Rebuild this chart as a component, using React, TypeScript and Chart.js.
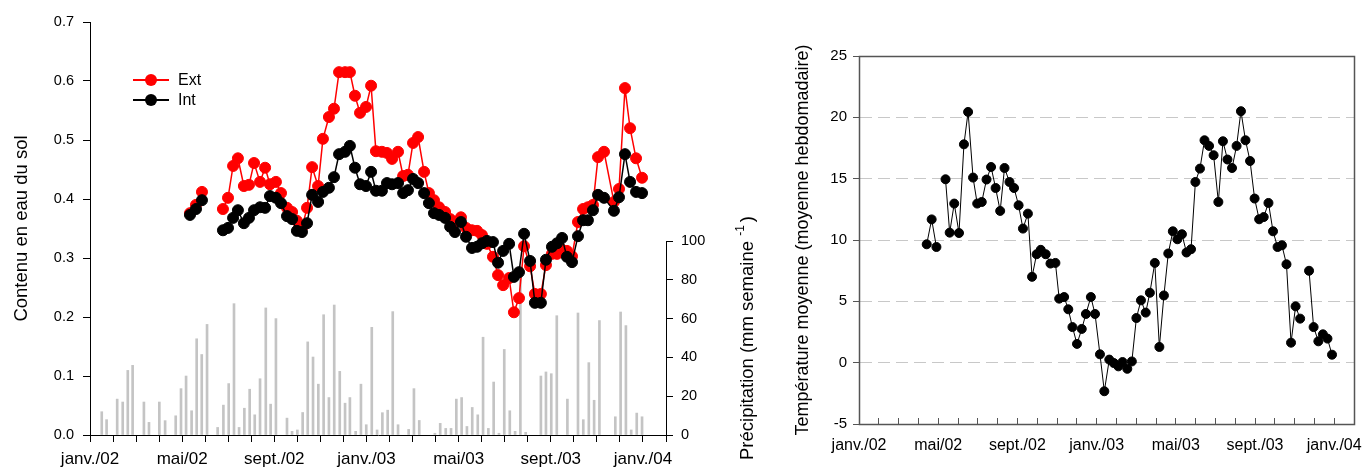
import React, { useEffect, useRef } from "react";
import { Chart, registerables } from "chart.js";

Chart.register(...registerables);

const FONT = "'Liberation Sans', Arial, sans-serif";

// x positions are expressed in months since 1 January 2002
const monthTickValues = [0, 4, 8, 12, 16, 20, 24];
const monthTickLabels = ["janv./02", "mai/02", "sept./02", "janv./03", "mai/03", "sept./03", "janv./04"];

// Soil water content (left panel)
const soilMonths = [
  4.34, 4.6, 4.86, 5.3, 5.77, 5.99, 6.21, 6.42, 6.68, 6.9, 7.12, 7.38, 7.6, 7.81, 8.07, 8.29, 8.55, 8.77, 8.98,
  9.2, 9.42, 9.64, 9.9, 10.11, 10.37, 10.59, 10.81, 11.07, 11.28, 11.5, 11.72, 11.98, 12.2, 12.41, 12.67, 12.89,
  13.11, 13.37, 13.59, 13.8, 14.02, 14.24, 14.5, 14.71, 14.93, 15.15, 15.41, 15.63, 15.84, 16.1, 16.32, 16.58,
  16.8, 17.01, 17.23, 17.49, 17.71, 17.93, 18.19, 18.4, 18.62, 18.84, 19.1, 19.31, 19.57, 19.79, 20.05, 20.27,
  20.49, 20.7, 20.92, 21.18, 21.4, 21.61, 21.83, 22.05, 22.31, 22.74, 22.96, 23.22, 23.44, 23.7, 23.96,
];
const extValues = [
  0.376, 0.39, 0.412, null, 0.383, 0.402, 0.456, 0.469, 0.422, 0.424, 0.461, 0.429, 0.453, 0.425, 0.429, 0.41,
  0.385, 0.378, 0.363, 0.351, 0.385, 0.454, 0.422, 0.502, 0.539, 0.553, 0.615, 0.615, 0.615, 0.575, 0.546, 0.556,
  0.592, 0.481, 0.48, 0.478, 0.468, 0.48, 0.439, 0.441, 0.495, 0.505, 0.446, 0.41, 0.398, 0.386, 0.378, 0.366,
  0.361, 0.369, 0.351, 0.347, 0.346, 0.339, 0.324, 0.302, 0.271, 0.254, 0.266, 0.208, 0.232, 0.32, 0.286, 0.239,
  0.239, 0.288, 0.307, 0.307, 0.314, 0.312, 0.303, 0.361, 0.383, 0.386, 0.39, 0.471, 0.48, 0.395, 0.417, 0.588,
  0.52, 0.469, 0.436,
];
const intValues = [
  0.373, 0.383, 0.398, null, 0.347, 0.351, 0.368, 0.381, 0.359, 0.368, 0.381, 0.386, 0.385, 0.405, 0.402, 0.393,
  0.371, 0.366, 0.346, 0.344, 0.359, 0.407, 0.395, 0.412, 0.419, 0.437, 0.476, 0.48, 0.49, 0.453, 0.425, 0.422,
  0.446, 0.414, 0.414, 0.427, 0.425, 0.427, 0.41, 0.415, 0.434, 0.427, 0.41, 0.393, 0.376, 0.373, 0.368, 0.353,
  0.344, 0.361, 0.336, 0.317, 0.319, 0.325, 0.329, 0.327, 0.292, 0.312, 0.324, 0.268, 0.276, 0.341, 0.295, 0.224,
  0.224, 0.297, 0.319, 0.325, 0.334, 0.302, 0.293, 0.337, 0.364, 0.364, 0.381, 0.407, 0.402, 0.38, 0.403, 0.476,
  0.429, 0.412, 0.41,
];

// Weekly precipitation (mm / week)
const precipMonths = [
  0.51, 0.72, 1.18, 1.42, 1.64, 1.85, 2.34, 2.56, 3.01, 3.26, 3.72, 3.95, 4.17, 4.41, 4.63, 4.85, 5.08, 5.54, 5.79,
  6.02, 6.25, 6.47, 6.7, 6.93, 7.15, 7.38, 7.63, 7.84, 8.07, 8.55, 8.77, 9.0, 9.23, 9.45, 9.68, 9.91, 10.14, 10.37,
  10.6, 10.84, 11.07, 11.28, 11.53, 11.76, 11.99, 12.23, 12.46, 12.69, 12.92, 13.14, 13.37, 13.83, 14.06, 14.29,
  14.97, 15.2, 15.44, 15.67, 15.9, 16.13, 16.36, 16.59, 16.83, 17.06, 17.29, 17.52, 17.75, 17.98, 18.22, 18.45,
  18.68, 18.91, 19.57, 19.79, 20.02, 20.26, 20.72, 21.18, 21.41, 21.65, 21.88, 22.11, 22.8, 23.03, 23.26, 23.49,
  23.73, 23.96,
];
const precipValues = [
  12, 7.9, 18.5, 17, 33.3, 35.9, 17, 6.5, 17, 7.4, 9.9, 23.9, 30.4, 12.5, 49.6, 41.5, 57, 3.9, 15.4, 26.5, 67.7, 3.9,
  13.8, 23.6, 10.4, 29, 65.5, 15.9, 60, 8.7, 1.9, 2.6, 11.6, 48, 40.2, 26.2, 62, 19.3, 67, 32.8, 16.4, 19.3, 1.9,
  26.2, 5.3, 55.5, 2.6, 11.5, 12.8, 63.6, 5.3, 2.9, 23.9, 7.5, 0.9, 6, 3.4, 3.4, 18.5, 19.3, 4.4, 14.2, 10.4, 50.4,
  3.4, 27.3, 0.9, 44.1, 12.5, 1.9, 85, 1.4, 30.4, 32.5, 31.6, 61.5, 18.5, 62.9, 7.9, 37.3, 17.9, 59, 9.4, 63.4, 56.4,
  2.6, 11.3, 9.4,
];

// Weekly mean temperature (right panel)
const tempMonths = [
  3.42, 3.67, 3.91, 4.14, 4.37, 4.58, 4.81, 5.05, 5.3, 5.51, 5.76, 5.97, 6.2, 6.44, 6.67, 6.9, 7.13, 7.35, 7.6, 7.83,
  8.06, 8.28, 8.53, 8.74, 8.97, 9.18, 9.43, 9.67, 9.92, 10.11, 10.36, 10.57, 10.78, 11.01, 11.25, 11.46, 11.71,
  11.92, 12.17, 12.39, 12.64, 12.87, 13.1, 13.31, 13.55, 13.78, 14.01, 14.24, 14.48, 14.69, 14.94, 15.17, 15.4,
  15.62, 15.85, 16.08, 16.31, 16.54, 16.77, 16.99, 17.22, 17.45, 17.68, 17.91, 18.15, 18.38, 18.61, 18.84, 19.07,
  19.29, 19.52, 19.75, 19.98, 20.21, 20.44, 20.68, 20.91, 21.14, 21.36, 21.59, 21.82, 22.05, 22.28, 22.5, 22.73,
  22.96, 23.2, 23.43, 23.66, 23.89,
];
const tempValues = [
  9.65, 11.68, 9.43, null, 14.95, 10.6, 12.97, 10.57, 17.8, 20.44, 15.09, 12.97, 13.1, 14.93, 15.95, 14.24, 12.37,
  15.87, 14.73, 14.24, 12.83, 10.93, 12.15, 7.0, 8.84, 9.2, 8.84, 8.08, 8.13, 5.22, 5.35, 4.35, 2.9, 1.53, 2.75, 3.97,
  5.35, 3.97, 0.68, -2.33, 0.25, -0.03, -0.3, 0.05, -0.5, 0.1, 3.64, 5.08, 4.08, 5.7, 8.13, 1.28, 5.48, 8.9, 10.71,
  10.06, 10.47, 8.98, 9.25, 14.73, 15.82, 18.13, 17.67, 16.91, 13.1, 18.05, 16.56, 15.87, 17.67, 20.5, 18.13, 16.44,
  13.38, 11.69, 11.87, 13.02, 10.71, 9.43, 9.57, 8.02, 1.63, 4.59, 3.59, null, 7.49, 2.9, 1.74, 2.31, 1.96, 0.65,
];

const legendItems = [
  { label: "Ext", color: "#ff0000" },
  { label: "Int", color: "#000000" },
];

const monthLabel = (v: number) => {
  const i = monthTickValues.indexOf(Math.round(v * 1000) / 1000);
  return i >= 0 ? monthTickLabels[i] : "";
};

const leftExtras = {
  id: "leftExtras",
  afterDraw(chart: any) {
    const ctx = chart.ctx as CanvasRenderingContext2D;
    const y2 = chart.scales.y2;
    const x = Math.round(y2.left) + 0.5;
    const p0 = y2.getPixelForValue(0);
    const p100 = y2.getPixelForValue(100);
    ctx.save();
    // partial precipitation axis line
    ctx.strokeStyle = "#000";
    ctx.lineWidth = 1;
    ctx.beginPath();
    ctx.moveTo(x, p0 + 0.5);
    ctx.lineTo(x, p100);
    ctx.stroke();

    // precipitation axis title (reads bottom to top)
    const main = "Précipitation (mm semaine ";
    const sup = "-1";
    const tail = ")";
    ctx.fillStyle = "#000";
    ctx.textBaseline = "middle";
    ctx.textAlign = "left";
    ctx.font = `18.5px ${FONT}`;
    const w1 = ctx.measureText(main).width;
    const w3 = ctx.measureText(tail).width;
    ctx.font = `12px ${FONT}`;
    const w2 = ctx.measureText(sup).width;
    const total = w1 + w2 + 3 + w3;
    ctx.translate(748, (p0 + p100) / 2);
    ctx.rotate(-Math.PI / 2);
    let tx = -total / 2;
    ctx.font = `18.5px ${FONT}`;
    ctx.fillText(main, tx, 0);
    tx += w1;
    ctx.font = `12px ${FONT}`;
    ctx.fillText(sup, tx, -7);
    tx += w2 + 3;
    ctx.font = `18.5px ${FONT}`;
    ctx.fillText(tail, tx, 0);
    ctx.setTransform(1, 0, 0, 1, 0, 0);

    // legend
    legendItems.forEach((it, i) => {
      const ly = 80 + i * 20;
      ctx.strokeStyle = it.color;
      ctx.lineWidth = 2;
      ctx.beginPath();
      ctx.moveTo(133, ly);
      ctx.lineTo(169, ly);
      ctx.stroke();
      ctx.fillStyle = it.color;
      ctx.beginPath();
      ctx.arc(151, ly, 6, 0, Math.PI * 2);
      ctx.fill();
      ctx.fillStyle = "#000";
      ctx.font = `16px ${FONT}`;
      ctx.textAlign = "left";
      ctx.textBaseline = "middle";
      ctx.fillText(it.label, 178, ly + 1);
    });
    ctx.restore();
  },
};

const rightFrame = {
  id: "rightFrame",
  afterDraw(chart: any) {
    const { ctx, chartArea } = chart;
    ctx.save();
    ctx.strokeStyle = "#555";
    ctx.lineWidth = 1.5;
    ctx.strokeRect(
      Math.round(chartArea.left) + 0.5,
      Math.round(chartArea.top) + 0.5,
      Math.round(chartArea.right - chartArea.left),
      Math.round(chartArea.bottom - chartArea.top)
    );
    ctx.restore();
  },
};

function leftConfig(): any {
  return {
    type: "line",
    data: {
      datasets: [
        {
          type: "line",
          label: "Ext",
          data: soilMonths.map((x, i) => ({ x, y: extValues[i] })),
          borderColor: "#ff0000",
          backgroundColor: "#ff0000",
          pointBackgroundColor: "#ff0000",
          pointBorderColor: "#ff0000",
          pointRadius: 5.5,
          pointBorderWidth: 1,
          borderWidth: 1.5,
          spanGaps: false,
          yAxisID: "y",
          order: 2,
        },
        {
          type: "line",
          label: "Int",
          data: soilMonths.map((x, i) => ({ x, y: intValues[i] })),
          borderColor: "#000",
          backgroundColor: "#000",
          pointBackgroundColor: "#000",
          pointBorderColor: "#000",
          pointRadius: 5.5,
          pointBorderWidth: 1,
          borderWidth: 1.5,
          spanGaps: false,
          yAxisID: "y",
          order: 1,
        },
        {
          type: "bar",
          label: "Précipitation",
          data: precipMonths.map((x, i) => ({ x, y: precipValues[i] })),
          backgroundColor: "#c4c4c4",
          borderWidth: 0,
          barThickness: 2,
          yAxisID: "y2",
          order: 3,
        },
      ],
    },
    options: {
      animation: false,
      responsive: false,
      devicePixelRatio: 1,
      layout: { padding: { top: 22, left: 0, right: 0, bottom: 0 } },
      plugins: { legend: { display: false }, tooltip: { enabled: false } },
      scales: {
        x: {
          type: "linear",
          min: 0,
          max: 25,
          offset: false,
          afterFit: (s: any) => {
            s.height = 33;
          },
          ticks: {
            stepSize: 1,
            autoSkip: false,
            maxRotation: 0,
            minRotation: 0,
            padding: 7,
            color: "#000",
            font: { family: FONT, size: 17 },
            callback: (v: any) => monthLabel(Number(v)),
          },
          grid: { display: true, drawOnChartArea: false, tickLength: 7, tickColor: "#000", offset: false },
          border: { display: true, color: "#000", width: 1 },
        },
        y: {
          type: "linear",
          position: "left",
          min: 0,
          max: 0.7,
          afterFit: (s: any) => {
            s.width = 90;
          },
          ticks: {
            stepSize: 0.1,
            padding: 9,
            color: "#000",
            font: { family: FONT, size: 14.5 },
            callback: (v: any) => Number(v).toFixed(1),
          },
          grid: { drawOnChartArea: false, tickLength: 7, tickColor: "#000" },
          border: { display: true, color: "#000", width: 1 },
          title: {
            display: true,
            text: "Contenu en eau du sol",
            color: "#000",
            font: { family: FONT, size: 18.5 },
            padding: { top: 11, bottom: 0 },
          },
        },
        y2: {
          type: "linear",
          position: "right",
          min: 0,
          max: 212.9,
          afterFit: (s: any) => {
            s.width = 114;
          },
          ticks: {
            stepSize: 20,
            padding: 8,
            color: "#000",
            font: { family: FONT, size: 14.5 },
            callback: (v: any) => (Number(v) <= 100 ? String(v) : ""),
          },
          grid: {
            drawOnChartArea: false,
            tickLength: 7,
            tickColor: (ctx: any) => (ctx.tick && ctx.tick.value <= 100 ? "#000" : "rgba(0,0,0,0)"),
          },
          border: { display: false },
        },
      },
    },
    plugins: [leftExtras],
  };
}

function rightConfig(): any {
  return {
    type: "line",
    data: {
      datasets: [
        {
          label: "Température",
          data: tempMonths.map((x, i) => ({ x, y: tempValues[i] })),
          borderColor: "#000",
          backgroundColor: "#000",
          pointBackgroundColor: "#000",
          pointBorderColor: "#000",
          pointRadius: 4.5,
          pointBorderWidth: 1,
          borderWidth: 1,
          spanGaps: false,
        },
      ],
    },
    options: {
      animation: false,
      responsive: false,
      devicePixelRatio: 1,
      layout: { padding: { top: 56, left: 0, right: 2, bottom: 0 } },
      plugins: { legend: { display: false }, tooltip: { enabled: false } },
      scales: {
        x: {
          type: "linear",
          min: 0,
          max: 25,
          offset: false,
          afterFit: (s: any) => {
            s.height = 44;
          },
          ticks: {
            stepSize: 1,
            autoSkip: false,
            maxRotation: 0,
            minRotation: 0,
            padding: 18,
            color: "#000",
            font: { family: FONT, size: 16 },
            callback: (v: any) => monthLabel(Number(v)),
          },
          grid: { display: true, drawOnChartArea: false, tickLength: -6, tickColor: "#555", offset: false },
          border: { display: true, color: "#555", width: 1 },
        },
        y: {
          type: "linear",
          min: -5,
          max: 25,
          afterFit: (s: any) => {
            s.width = 79;
          },
          ticks: {
            stepSize: 5,
            padding: 6,
            color: "#000",
            font: { family: FONT, size: 15 },
          },
          grid: {
            drawOnChartArea: true,
            tickLength: 6,
            tickColor: "#555",
            color: (ctx: any) =>
              ctx.tick && ctx.tick.value > -5 && ctx.tick.value < 25 ? "#c8c8c8" : "rgba(0,0,0,0)",
          },
          border: { display: true, color: "#555", width: 1, dash: [12, 6] },
          title: {
            display: true,
            text: "Température moyenne (moyenne hebdomadaire)",
            color: "#000",
            font: { family: FONT, size: 18 },
            padding: { top: 12, bottom: 0 },
          },
        },
      },
    },
    plugins: [rightFrame],
  };
}

export default function App() {
  const leftRef = useRef<HTMLCanvasElement>(null);
  const rightRef = useRef<HTMLCanvasElement>(null);

  useEffect(() => {
    const c1 = new Chart(leftRef.current as HTMLCanvasElement, leftConfig());
    const c2 = new Chart(rightRef.current as HTMLCanvasElement, rightConfig());
    return () => {
      c1.destroy();
      c2.destroy();
    };
  }, []);

  return (
    <div style={{ position: "fixed", left: 0, top: 0, width: 1372, height: 468, background: "#fff" }}>
      <canvas ref={leftRef} width={780} height={468} style={{ position: "absolute", left: 0, top: 0 }} />
      <canvas ref={rightRef} width={592} height={468} style={{ position: "absolute", left: 780, top: 0 }} />
    </div>
  );
}
